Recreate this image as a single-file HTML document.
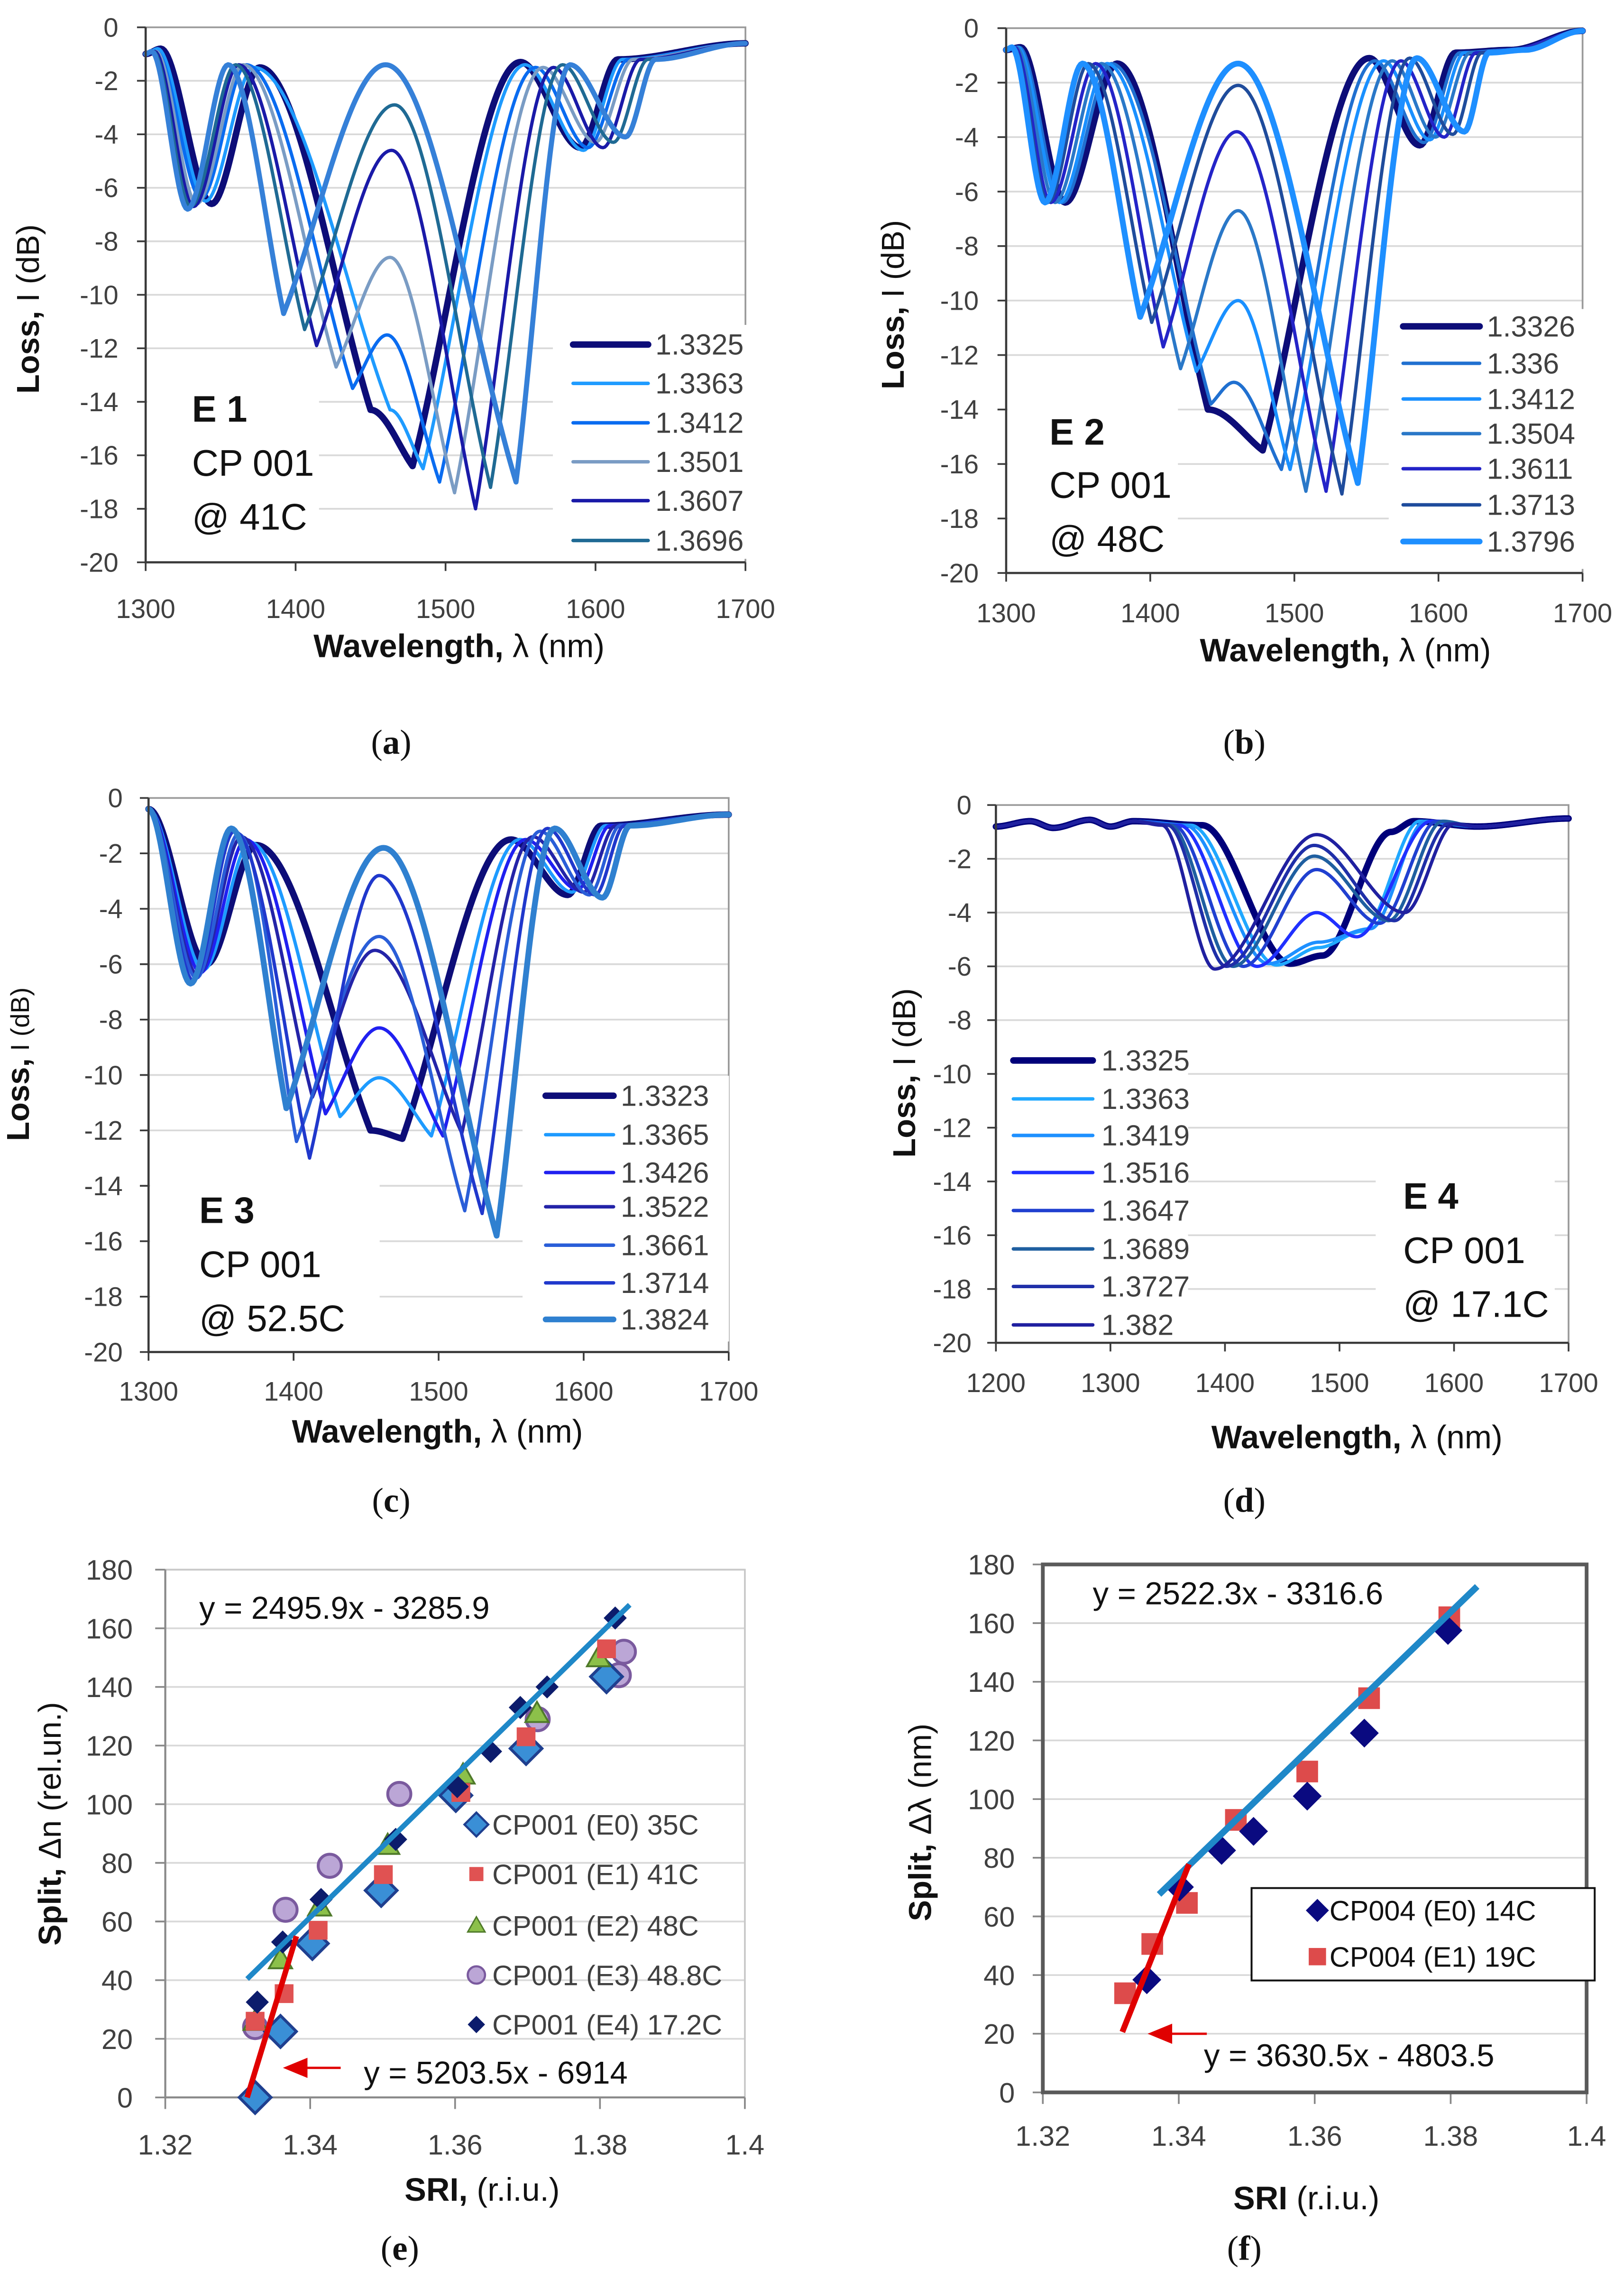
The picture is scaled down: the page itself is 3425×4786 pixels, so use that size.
<!DOCTYPE html>
<html><head><meta charset="utf-8"><title>Spectra and split charts</title>
<style>
html,body{margin:0;padding:0;background:#fff;}
svg{display:block;}
text{font-family:"Liberation Sans",Arial,sans-serif;}
text.serif{font-family:"Liberation Serif",serif;}
</style></head>
<body>
<svg id="fig" xmlns="http://www.w3.org/2000/svg" width="3425" height="4786" viewBox="0 0 1125 1572" preserveAspectRatio="none">
<rect x="0" y="0" width="1125" height="1572" fill="#fff"/>
</svg>
<script>
// ---------- Panel (a) data ----------
const aLabels = ['1.3325','1.3363','1.3412','1.3501','1.3607','1.3696',''];
const aColors = ['#0d0d78','#1e9bff','#0a6cf0','#7a9cc4','#1a1aa8','#1f6a94','#3580d8'];
const aWidths = [4.5,2.3,2.3,2.3,2.3,2.3,3.5];
const aPoints = [
 [[1300,-1],[1310,-0.8],[1344,-6.6],[1376,-1.5],[1450,-14.3],[1478,-16.4],[1550,-1.3],[1590,-4.5],[1615,-1.2],[1700,-0.6]],
 [[1300,-1],[1308,-0.8],[1340,-6.5],[1372,-1.5],[1463,-14.3],[1485,-16.5],[1553,-1.4],[1592,-4.6],[1618,-1.2],[1700,-0.6]],
 [[1300,-1],[1307,-0.9],[1337,-6.4],[1367,-1.4],[1438,-13.5],[1461,-11.5],[1496,-17],[1560,-1.5],[1595,-4.5],[1622,-1.2],[1700,-0.6]],
 [[1300,-1],[1307,-0.9],[1334,-6.6],[1365,-1.4],[1427,-12.7],[1463,-8.6],[1506,-17.4],[1565,-1.5],[1600,-4.3],[1625,-1.2],[1700,-0.6]],
 [[1300,-1],[1306,-0.9],[1332,-6.7],[1362,-1.4],[1414,-11.9],[1464,-4.6],[1520,-18],[1572,-1.5],[1605,-4.5],[1630,-1.2],[1700,-0.6]],
 [[1300,-1],[1305,-0.9],[1330,-6.7],[1360,-1.4],[1406,-11.3],[1466,-2.9],[1530,-17.2],[1578,-1.4],[1612,-4.3],[1635,-1.2],[1700,-0.6]],
 [[1300,-1],[1304,-0.9],[1328,-6.8],[1355,-1.4],[1392,-10.7],[1460,-1.4],[1547,-17],[1583,-1.4],[1620,-4.1],[1640,-1.2],[1700,-0.6]]
];
// ---------- Panel (b) data ----------
const bLabels = ['1.3326','1.336','1.3412','1.3504','1.3611','1.3713','1.3796'];
const bColors = ['#0d0d78','#2070d0','#1a90ff','#2a78c8','#2424c8','#1f4c9c','#1e8fff'];
const bWidths = [4.5,2.3,2.3,2.3,2.3,2.3,4];
const bPoints = [
 [[1300,-0.8],[1310,-0.7],[1341,-6.4],[1377,-1.3],[1440,-14],[1478,-15.5],[1552,-1.1],[1587,-4.3],[1612,-0.9],[1650,-0.8],[1700,-0.1]],
 [[1300,-0.8],[1309,-0.7],[1339,-6.4],[1373,-1.3],[1442,-13.8],[1458,-13],[1491,-16.2],[1556,-1.2],[1590,-4.2],[1615,-0.9],[1650,-0.8],[1700,-0.1]],
 [[1300,-0.8],[1308,-0.7],[1337,-6.4],[1370,-1.3],[1432,-12.6],[1461,-10],[1497,-16.2],[1562,-1.2],[1594,-4.1],[1618,-0.9],[1650,-0.8],[1700,-0.1]],
 [[1300,-0.8],[1307,-0.7],[1334,-6.4],[1366,-1.3],[1421,-12.5],[1461,-6.7],[1508,-17],[1568,-1.2],[1598,-4],[1622,-0.9],[1650,-0.8],[1700,-0.1]],
 [[1300,-0.8],[1306,-0.7],[1331,-6.4],[1362,-1.3],[1409,-11.7],[1460,-3.8],[1522,-17],[1574,-1.2],[1604,-4],[1626,-0.9],[1650,-0.8],[1700,-0.1]],
 [[1300,-0.8],[1305,-0.7],[1329,-6.4],[1357,-1.3],[1401,-10.8],[1461,-2.1],[1533,-17.1],[1580,-1.1],[1610,-3.9],[1630,-0.9],[1655,-0.8],[1700,-0.1]],
 [[1300,-0.8],[1304,-0.7],[1327,-6.4],[1353,-1.3],[1393,-10.6],[1461,-1.3],[1544,-16.7],[1585,-1.1],[1618,-3.8],[1635,-0.9],[1660,-0.8],[1700,-0.1]]
];
// ---------- Panel (c) data ----------
const cLabels = ['1.3323','1.3365','1.3426','1.3522','1.3661','1.3714','1.3824'];
const cColors = ['#0d0d78','#1e9bff','#2020f0','#2424a8','#2a5ed8','#2038cc','#2f80d0'];
const cWidths = [4.5,2.3,2.3,2.3,2.3,2.3,4];
const cPoints = [
 [[1300,-0.4],[1340,-6],[1374,-1.7],[1453,-12],[1475,-12.3],[1550,-1.5],[1589,-3.5],[1612,-1],[1700,-0.6]],
 [[1300,-0.4],[1338,-6.2],[1370,-1.6],[1432,-11.5],[1459,-10.1],[1495,-12.2],[1556,-1.5],[1592,-3.4],[1615,-1],[1700,-0.6]],
 [[1300,-0.4],[1336,-6.3],[1367,-1.5],[1422,-11.4],[1459,-8.3],[1503,-12.2],[1560,-1.5],[1596,-3.3],[1618,-1],[1700,-0.6]],
 [[1300,-0.4],[1334,-6.4],[1364,-1.4],[1413,-10.8],[1456,-5.5],[1516,-12.1],[1565,-1.4],[1600,-3.4],[1622,-1],[1700,-0.6]],
 [[1300,-0.4],[1333,-6.5],[1362,-1.3],[1402,-12.4],[1459,-5.0],[1518,-14.9],[1570,-1.2],[1604,-3.5],[1625,-1],[1700,-0.6]],
 [[1300,-0.4],[1331,-6.6],[1359,-1.2],[1411,-13],[1459,-2.8],[1530,-15],[1575,-1.1],[1608,-3.5],[1628,-1],[1700,-0.6]],
 [[1300,-0.4],[1329,-6.7],[1357,-1.1],[1395,-11.2],[1462,-1.8],[1540,-15.8],[1580,-1.1],[1613,-3.6],[1632,-1],[1700,-0.6]]
];
// ---------- Panel (d) data ----------
const dLabels = ['1.3325','1.3363','1.3419','1.3516','1.3647','1.3689','1.3727','1.382'];
const dColors = ['#00007a','#20a8ff','#1e90ff','#2030ff','#2040d0','#1f5fa0','#1f2fa8','#2020a0'];
const dWidths = [4.5,2.3,2.3,2.3,2.3,2.3,2.3,2.3];
const dPoints = [
 [[1200,-0.8],[1230,-0.6],[1250,-0.85],[1282,-0.55],[1300,-0.8],[1320,-0.6],[1380,-0.75],[1457,-5.9],[1485,-5.6],[1545,-1],[1565,-0.6],[1620,-0.8],[1700,-0.5]],
 [[1200,-0.8],[1230,-0.6],[1250,-0.85],[1282,-0.55],[1300,-0.8],[1320,-0.6],[1370,-0.75],[1445,-5.95],[1482,-5.3],[1520,-4.7],[1570,-0.6],[1620,-0.8],[1700,-0.5]],
 [[1200,-0.8],[1230,-0.6],[1250,-0.85],[1282,-0.55],[1300,-0.8],[1320,-0.6],[1365,-0.75],[1438,-5.9],[1482,-5.1],[1527,-4.6],[1575,-0.6],[1620,-0.8],[1700,-0.5]],
 [[1200,-0.8],[1230,-0.6],[1250,-0.85],[1282,-0.55],[1300,-0.8],[1320,-0.6],[1360,-0.75],[1428,-6],[1480,-4.0],[1515,-4.9],[1580,-0.6],[1620,-0.8],[1700,-0.5]],
 [[1200,-0.8],[1230,-0.6],[1250,-0.85],[1282,-0.55],[1300,-0.8],[1320,-0.6],[1355,-0.75],[1416,-6],[1480,-2.4],[1535,-4.4],[1585,-0.6],[1620,-0.8],[1700,-0.5]],
 [[1200,-0.8],[1230,-0.6],[1250,-0.85],[1282,-0.55],[1300,-0.8],[1320,-0.6],[1352,-0.75],[1407,-6],[1478,-1.9],[1543,-4.3],[1590,-0.6],[1620,-0.8],[1700,-0.5]],
 [[1200,-0.8],[1230,-0.6],[1250,-0.85],[1282,-0.55],[1300,-0.8],[1320,-0.6],[1350,-0.75],[1401,-6],[1478,-1.5],[1548,-4.3],[1595,-0.7],[1620,-0.8],[1700,-0.5]],
 [[1200,-0.8],[1230,-0.6],[1250,-0.85],[1282,-0.55],[1300,-0.8],[1320,-0.6],[1345,-0.75],[1391,-6.1],[1480,-1.1],[1557,-4.0],[1600,-0.7],[1620,-0.8],[1700,-0.5]]
];
const lossTicks = [0,-2,-4,-6,-8,-10,-12,-14,-16,-18,-20];
const wlTicksABC = [1300,1400,1500,1600,1700];
const wlTicksD = [1200,1300,1400,1500,1600,1700];

// ---------- Panel (e) data ----------
const eSeriesNames = ['CP001 (E0) 35C','CP001 (E1) 41C','CP001 (E2) 48C','CP001 (E3) 48.8C','CP001 (E4) 17.2C'];
const eE0x = [1.3324,1.3359,1.3403,1.3498,1.3601,1.3698,1.3809];
const eE0y = [0,22.5,52.5,70.6,103,119,143.5];
const eE1x = [1.3324,1.3364,1.3411,1.3501,1.3608,1.3698,1.3809];
const eE1y = [26,35.4,57,76,104,123,153];
const eE2x = [1.3324,1.3359,1.3413,1.3507,1.3611,1.3713,1.3798];
const eE2y = [26,47,65,86,110,131,150];
const eE3x = [1.3324,1.3366,1.3427,1.3523,1.3714,1.3826,1.3833];
const eE3y = [24,64,79,103.5,129,144,152];
const eE4x = [1.3327,1.3362,1.3415,1.3518,1.3603,1.3649,1.369,1.3727,1.3821];
const eE4y = [32.5,53,67.5,88,106,118,133,140,163.5];
const eBlueFitX = [1.3313,1.3841];
const eBlueFitY = [40.4,168];
const eRedFitX = [1.3313,1.3381];
const eRedFitY = [0,55];
const eXTicks = [1.32,1.34,1.36,1.38,1.4];
const eXTickLabels = ['1.32','1.34','1.36','1.38','1.4'];
const eYTicks = [0,20,40,60,80,100,120,140,160,180];

// ---------- Panel (f) data ----------
const fSeriesNames = ['CP004 (E0) 14C','CP004 (E1) 19C'];
const fE0x = [1.3353,1.3401,1.3463,1.351,1.3589,1.3673,1.3796];
const fE0y = [38.4,70,82.5,89,101,122.5,157.5];
const fE1x = [1.3321,1.3361,1.3412,1.3484,1.3589,1.368,1.3798];
const fE1y = [33.8,50.6,64.6,92.9,109.4,134.4,162];
const fBlueFitX = [1.3371,1.3839];
const fBlueFitY = [67.5,172.5];
const fRedFitX = [1.3317,1.3415];
const fRedFitY = [20.6,77.8];
const fXTicks = [1.32,1.34,1.36,1.38,1.4];
const fXTickLabels = ['1.32','1.34','1.36','1.38','1.4'];
const fYTicks = [0,20,40,60,80,100,120,140,160,180];

const NS = 'http://www.w3.org/2000/svg';
const svg = document.getElementById('fig');
function mk(tag, attrs, parent){
  const el = document.createElementNS(NS, tag);
  for (const k in attrs) el.setAttribute(k, attrs[k]);
  (parent || svg).appendChild(el);
  return el;
}
function txt(x, y, str, size, opts, parent){
  opts = opts || {};
  const el = mk('text', {x:x, y:y, 'font-size':size, fill:opts.fill||'#404040', 'text-anchor':opts.anchor||'start', 'font-weight':opts.weight||'normal'}, parent);
  el.textContent = str;
  return el;
}
function caption(g, x, y, letter){
  const cap = mk('text', {x:x, y:y, 'font-size':24, 'text-anchor':'middle', fill:'#111', 'class':'serif'}, g);
  
  
  const c1 = mk('tspan', {}, cap); c1.textContent = '(';
  const c2 = mk('tspan', {'font-weight':'bold'}, cap); c2.textContent = letter;
  const c3 = mk('tspan', {}, cap); c3.textContent = ')';
}

// ---------- spectra panels ----------
function spectrum(key, P, labels, colors, widths, points, wlTicks, texts, boxes, legend, titles){
  const g = mk('g', {});
  
  
  const sx = v => P.x0 + (v - P.l0) / (P.l1 - P.l0) * (P.x1 - P.x0);
  const sy = v => P.y0 + (0 - v) / 20 * (P.y1 - P.y0);
  lossTicks.forEach(t => {
    if (t === 0 || t === -20) return;
    const gl = mk('line', {x1:P.x0, x2:P.x1, y1:sy(t), y2:sy(t), stroke:'#d9d9d9', 'stroke-width':1.2}, g);
    
    
  });
  const fr = mk('path', {d:'M'+P.x0+' '+P.y0+' H'+P.x1+' V'+P.y1, fill:'none', stroke:'#9a9a9a', 'stroke-width':1.2}, g);
  
  
  boxes.forEach(b => {
    const r = mk('rect', {x:b[0], y:b[1], width:b[2], height:b[3], fill:'#fff'}, g);
    
    
  });
  points.forEach((pts, i) => {
    let d = '';
    for (let j = 0; j < pts.length - 1; j++) {
      const [xa, ya] = pts[j], [xb, yb] = pts[j+1];
      const n = Math.max(2, Math.ceil((xb - xa) / 1.2));
      const intoDeep = yb < -7 && yb < ya;
      const outDeep = ya < -7 && yb > ya;
      for (let k = (j === 0 ? 0 : 1); k <= n; k++) {
        const t = k / n;
        let s = t * t * (3 - 2 * t);
        if (intoDeep) s = 0.35 * s + 0.65 * (1 - Math.cos(Math.PI * t / 2));
        else if (outDeep) s = 0.35 * s + 0.65 * Math.sin(Math.PI * t / 2);
        const x = xa + (xb - xa) * t, y = ya + (yb - ya) * s;
        d += (d ? 'L' : 'M') + sx(x).toFixed(2) + ' ' + sy(y).toFixed(2);
      }
    }
    const p = mk('path', {d:d, fill:'none', stroke:colors[i], 'stroke-width':widths[i], 'stroke-linejoin':'round', 'stroke-linecap':'round'}, g);
    
    
  });
  const ax = mk('path', {d:'M'+P.x0+' '+P.y0+' V'+P.y1+' H'+P.x1, fill:'none', stroke:'#3a3a3a', 'stroke-width':1.5}, g);
  
  
  lossTicks.forEach(t => {
    const tk = mk('line', {x1:P.x0-6, x2:P.x0, y1:sy(t), y2:sy(t), stroke:'#3a3a3a', 'stroke-width':1.2}, g);
    
    
    const tl = txt(P.ylabX, sy(t) + 6.5, String(t), 18.5, {anchor:'end'}, g);
    
    
  });
  wlTicks.forEach(t => {
    const tk = mk('line', {x1:sx(t), x2:sx(t), y1:P.y1, y2:P.y1+6, stroke:'#3a3a3a', 'stroke-width':1.2}, g);
    
    
    const tl = txt(sx(t), P.xlabY, String(t), 18.5, {anchor:'middle'}, g);
    
    
  });
  legend.rows.forEach((yy, i) => {
    const ll = mk('line', {x1:legend.lx0, x2:legend.lx1, y1:yy, y2:yy, stroke:colors[i], 'stroke-width':Math.max(2.4, widths[i]), 'stroke-linecap':'round'}, g);
    
    
    const lt = txt(legend.tx, yy + 7, labels[i], 20, {}, g);
    
    
  });
  texts.forEach((t, i) => {
    const el = txt(t[0], t[1], t[2], 25.5, {fill:'#111', weight: i === 0 ? 'bold' : 'normal'}, g);
    
    
  });
  const xt = mk('text', {x:titles.xx, y:titles.xy, 'font-size':22.5, 'text-anchor':'middle', fill:'#111'}, g);
  
  
  const xb = mk('tspan', {'font-weight':'bold'}, xt); xb.textContent = 'Wavelength,';
  const xn = mk('tspan', {}, xt); xn.textContent = ' \u03bb (nm)';
  const yt = mk('text', {x:titles.yx, y:titles.yy, 'font-size':22, 'text-anchor':'middle', fill:'#111', transform:'rotate(-90 '+titles.yx+' '+titles.yy+')'}, g);
  
  
  const yb = mk('tspan', {'font-weight':'bold'}, yt); yb.textContent = 'Loss,';
  const yn = mk('tspan', {'font-size': titles.ysmall ? 18 : 22}, yt); yn.textContent = ' I (dB)';
  caption(g, titles.cx, titles.cy, key);
}

spectrum('a', {x0:100.9,x1:516.4,l0:1300,l1:1700,y0:18.9,y1:389.4,ylabX:82,xlabY:428},
  aLabels, aColors, aWidths, aPoints, wlTicksABC,
  [[133,292,'E 1'],[133,329.5,'CP 001'],[133,366.8,'@ 41C']],
  [[102,262,119,124],[383,225,140,162]],
  {rows:[238.6,265.5,292.8,319.8,346.7,374.3], lx0:397, lx1:449, tx:454},
  {xx:318, xy:455, yx:27, yy:214, cx:271, cy:522});
spectrum('b', {x0:697,x1:1096.3,l0:1300,l1:1700,y0:19.5,y1:396.8,ylabX:678,xlabY:431},
  bLabels, bColors, bWidths, bPoints, wlTicksABC,
  [[727,308,'E 2'],[727,344.7,'CP 001'],[727,382,'@ 48C']],
  [[698,268,118,126],[962,214,140,180]],
  {rows:[226,251.6,276.3,300.3,324.6,349.6,375], lx0:972, lx1:1025, tx:1030},
  {xx:932, xy:458, yx:626, yy:211, cx:862, cy:522});
spectrum('c', {x0:102.9,x1:504.8,l0:1300,l1:1700,y0:552.6,y1:936.3,ylabX:85,xlabY:970},
  cLabels, cColors, cWidths, cPoints, wlTicksABC,
  [[138,847,'E 3'],[138,884.4,'CP 001'],[138,921.8,'@ 52.5C']],
  [[104,800,159,134],[362,745,143,184]],
  {rows:[758.8,785.8,812,835.7,862.3,888.4,913.7], lx0:378, lx1:425, tx:430},
  {xx:303, xy:999, yx:20, yy:737, ysmall:true, cx:271, cy:1047});
spectrum('d', {x0:689.9,x1:1086.6,l0:1200,l1:1700,y0:557.5,y1:929.9,ylabX:673,xlabY:964},
  dLabels, dColors, dWidths, dPoints, wlTicksD,
  [[972,837,'E 4'],[972,874.7,'CP 001'],[972,912,'@ 17.1C']],
  [[691,720,132,208],[953,808,124,120]],
  {rows:[734.4,761,786.3,812,838.3,864.9,890.9,917.5], lx0:702, lx1:757, tx:763},
  {xx:940, xy:1003, yx:634, yy:743, cx:862, cy:1047});

// ---------- scatter panels ----------
function marker(g, type, x, y, name){
  let el;
  if (type === 'diamondL') el = mk('path', {d:`M${x} ${y-11}L${x+11} ${y}L${x} ${y+11}L${x-11} ${y}Z`, fill:'#3a8fd6', stroke:'#1f3f8f', 'stroke-width':2}, g);
  else if (type === 'square') el = mk('rect', {x:x-6.5, y:y-6.5, width:13, height:13, fill:'#e05252'}, g);
  else if (type === 'squareL') el = mk('rect', {x:x-7.5, y:y-7.5, width:15, height:15, fill:'#dd4b4b'}, g);
  else if (type === 'tri') el = mk('path', {d:`M${x} ${y-8}L${x+8} ${y+6}L${x-8} ${y+6}Z`, fill:'#8cc04a', stroke:'#4f7a2a', 'stroke-width':1.3}, g);
  else if (type === 'circle') el = mk('circle', {cx:x, cy:y, r:8, fill:'#bba6d6', stroke:'#7a5a9e', 'stroke-width':2}, g);
  else if (type === 'diamondS') el = mk('path', {d:`M${x} ${y-8}L${x+8} ${y}L${x} ${y+8}L${x-8} ${y}Z`, fill:'#0c1c6c'}, g);
  else if (type === 'diamondF') el = mk('path', {d:`M${x} ${y-10}L${x+10} ${y}L${x} ${y+10}L${x-10} ${y}Z`, fill:'#0a0a80'}, g);
  
  
  return el;
}

function scatterAxes(g, P, xTicks, xLabels, yTicks, darkFrame){
  const sx = v => P.x0 + (v - 1.32) / 0.08 * (P.x1 - P.x0);
  const sy = v => P.y0 - v / 180 * (P.y0 - P.y1);
  yTicks.forEach(t => {
    if (t > 0) {
      const gl = mk('line', {x1:P.x0, x2:P.x1, y1:sy(t), y2:sy(t), stroke: t === 180 && darkFrame ? 'none' : '#d9d9d9', 'stroke-width':1.2}, g);
      
      
    }
    const tk = mk('line', {x1:P.x0-7, x2:P.x0, y1:sy(t), y2:sy(t), stroke:'#888', 'stroke-width':1.2}, g);
    
    
    const tl = txt(P.ylabX, sy(t) + 7, String(t), 19.5, {anchor:'end'}, g);
    
    
  });
  xTicks.forEach((t, i) => {
    const tk = mk('line', {x1:sx(t), x2:sx(t), y1:P.y0, y2:P.y0+8, stroke:'#888', 'stroke-width':1.2}, g);
    
    
    const tl = txt(sx(t), P.xlabY, xLabels[i], 19.5, {anchor:'middle'}, g);
    
    
  });
  let fr;
  if (darkFrame) fr = mk('rect', {x:P.x0, y:P.y1, width:P.x1-P.x0, height:P.y0-P.y1, fill:'none', stroke:'#5a5a5a', 'stroke-width':2.6}, g);
  else {
    fr = mk('path', {d:`M${P.x0} ${P.y1}H${P.x1}V${P.y0}`, fill:'none', stroke:'#c8c8c8', 'stroke-width':1.2}, g);
    const ax = mk('path', {d:`M${P.x0} ${P.y1}V${P.y0}H${P.x1}`, fill:'none', stroke:'#8a8a8a', 'stroke-width':1.4}, g);
    
    
  }
  
  
  return [sx, sy];
}

function fitLine(g, sx, sy, xs, ys, color, w, name){
  const l = mk('line', {x1:sx(xs[0]), y1:sy(ys[0]), x2:sx(xs[1]), y2:sy(ys[1]), stroke:color, 'stroke-width':w}, g);
  
  
}
function arrow(g, xTail, xTip, y, name){
  const l = mk('line', {x1:xTail, y1:y, x2:xTip + 10, y2:y, stroke:'#e00000', 'stroke-width':1.6}, g);
  
  
  const h = mk('path', {d:`M${xTip} ${y}L${xTip+17} ${y-7}L${xTip+17} ${y+7}Z`, fill:'#e00000'}, g);
  
  
}

// Panel (e)
(function(){
  const g = mk('g', {});
  
  
  const P = {x0:114.5, x1:516, y0:1452.5, y1:1087, ylabX:92, xlabY:1492};
  const [sx, sy] = scatterAxes(g, P, eXTicks, eXTickLabels, eYTicks, false);
  eE3x.forEach((x, i) => marker(g, 'circle', sx(x), sy(eE3y[i]), 'point-e3'));
  eE0x.forEach((x, i) => marker(g, 'diamondL', sx(x), sy(eE0y[i]), 'point-e0'));
  eE2x.forEach((x, i) => marker(g, 'tri', sx(x), sy(eE2y[i]), 'point-e2'));
  eE1x.forEach((x, i) => marker(g, 'square', sx(x), sy(eE1y[i]), 'point-e1'));
  eE4x.forEach((x, i) => marker(g, 'diamondS', sx(x), sy(eE4y[i]), 'point-e4'));
  fitLine(g, sx, sy, eBlueFitX, eBlueFitY, '#1f88c8', 3.6, 'blue-fit-line');
  fitLine(g, sx, sy, eRedFitX, eRedFitY, '#e00000', 3.8, 'red-fit-line');
  const types = ['diamondL','square','tri','circle','diamondS'];
  const rows = [1263.5,1297.8,1333.4,1367.7,1402];
  eSeriesNames.forEach((n, i) => {
    const m = marker(g, types[i], 330, rows[i], 'legend-marker');
    m.setAttribute('transform', `translate(330 ${rows[i]}) scale(0.75) translate(-330 ${-rows[i]})`);
    const t = txt(341, rows[i] + 7, n, 19.5, {}, g);
    
    
  });
  const e1 = txt(138, 1121, 'y = 2495.9x - 3285.9', 22, {fill:'#111'}, g);
  
  
  const e2 = txt(252, 1443, 'y = 5203.5x - 6914', 22, {fill:'#111'}, g);
  
  
  arrow(g, 236, 196, 1432, 'red-arrow');
  const xt = mk('text', {x:334, y:1524, 'font-size':22.5, 'text-anchor':'middle', fill:'#111'}, g);
  
  
  const xa = mk('tspan', {'font-weight':'bold'}, xt); xa.textContent = 'SRI,';
  const xb = mk('tspan', {}, xt); xb.textContent = ' (r.i.u.)';
  const yt = mk('text', {x:42, y:1263, 'font-size':22, 'text-anchor':'middle', fill:'#111', transform:'rotate(-90 42 1263)'}, g);
  
  
  const ya = mk('tspan', {'font-weight':'bold'}, yt); ya.textContent = 'Split, ';
  const yb = mk('tspan', {}, yt); yb.textContent = '\u0394n (rel.un.)';
  caption(g, 277, 1565, 'e');
})();

// Panel (f)
(function(){
  const g = mk('g', {});
  
  
  const P = {x0:722.4, x1:1099.1, y0:1449, y1:1083.4, ylabX:703, xlabY:1486};
  const [sx, sy] = scatterAxes(g, P, fXTicks, fXTickLabels, fYTicks, true);
  fE1x.forEach((x, i) => marker(g, 'squareL', sx(x), sy(fE1y[i]), 'point-e1'));
  fE0x.forEach((x, i) => marker(g, 'diamondF', sx(x), sy(fE0y[i]), 'point-e0'));
  fitLine(g, sx, sy, fBlueFitX, fBlueFitY, '#1f88c8', 4.5, 'blue-fit-line');
  fitLine(g, sx, sy, fRedFitX, fRedFitY, '#e00000', 4, 'red-fit-line');
  const lb = mk('rect', {x:867, y:1307.5, width:237.7, height:64, fill:'#fff', stroke:'#111', 'stroke-width':1.3}, g);
  
  
  const types = ['diamondF','squareL'];
  const rows = [1323,1355];
  fSeriesNames.forEach((n, i) => {
    const m = marker(g, types[i], 912.6, rows[i], 'legend-marker');
    m.setAttribute('transform', `translate(912.6 ${rows[i]}) scale(0.8) translate(-912.6 ${-rows[i]})`);
    const t = txt(921, rows[i] + 7, n, 19.5, {fill:'#111'}, g);
    
    
  });
  const e1 = txt(757, 1111, 'y = 2522.3x - 3316.6', 22, {fill:'#111'}, g);
  
  
  const e2 = txt(834, 1431, 'y = 3630.5x - 4803.5', 22, {fill:'#111'}, g);
  
  
  arrow(g, 836, 795, 1408.4, 'red-arrow');
  const xt = mk('text', {x:905, y:1530, 'font-size':22.5, 'text-anchor':'middle', fill:'#111'}, g);
  
  
  const xa = mk('tspan', {'font-weight':'bold'}, xt); xa.textContent = 'SRI';
  const xb = mk('tspan', {}, xt); xb.textContent = ' (r.i.u.)';
  const yt = mk('text', {x:645, y:1262, 'font-size':22, 'text-anchor':'middle', fill:'#111', transform:'rotate(-90 645 1262)'}, g);
  
  
  const ya = mk('tspan', {'font-weight':'bold'}, yt); ya.textContent = 'Split, ';
  const yb = mk('tspan', {}, yt); yb.textContent = '\u0394\u03bb (nm)';
  caption(g, 862, 1565, 'f');
})();
</script>
</body></html>
